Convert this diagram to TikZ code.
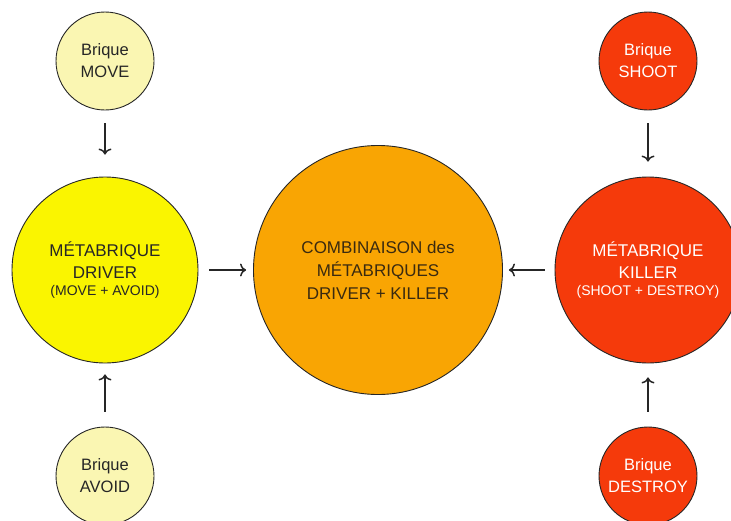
\documentclass[tikz,border=0pt]{standalone}
\usepackage{fontspec}
\setmainfont{Liberation Sans}
\usepackage{xcolor}
\usetikzlibrary{arrows.meta, positioning}

\definecolor{briqueYellow}{HTML}{FAF6B2}
\definecolor{metaYellow}{HTML}{FAF500}
\definecolor{comboOrange}{HTML}{F9A503}
\definecolor{killerRed}{HTML}{F53A0B}
\definecolor{comboText}{HTML}{3A2A10}

\tikzset{
  bubble/.style={circle, draw=black!85, line width=0.9pt, inner sep=0pt, align=center},
  brique/.style={bubble, minimum size=98pt, font=\fontsize{16.5}{22}\selectfont},
  meta/.style={bubble, minimum size=186pt, font=\fontsize{17}{22}\selectfont},
  combo/.style={bubble, minimum size=249pt, fill=comboOrange, text=comboText,
    font=\fontsize{17}{23}\selectfont},
  feed/.style={-{To[length=6pt, width=13pt]}, line width=1.5pt, black!85}
}

\begin{document}
\begin{tikzpicture}[x=1pt, y=-1pt]
\useasboundingbox (0,0) rectangle (731,520);

% small bricks
\node[brique, fill=briqueYellow, text=black!85] (move) at (105,61) {Brique\\MOVE};
\node[brique, fill=briqueYellow, text=black!85] (avoid) at (105,476) {Brique\\AVOID};
\node[brique, fill=killerRed, text=white] (shoot) at (648,61) {Brique\\SHOOT};
\node[brique, fill=killerRed, text=white] (destroy) at (648,476) {Brique\\DESTROY};

% meta bricks
\node[meta, fill=metaYellow, text=black!85] (driver) at (105,270)
  {MÉTABRIQUE\\DRIVER\\[-5pt]{\fontsize{14}{17}\selectfont (MOVE + AVOID)}};
\node[meta, fill=killerRed, text=white] (killer) at (648,270)
  {MÉTABRIQUE\\KILLER\\[-5pt]{\fontsize{14}{17}\selectfont (SHOOT + DESTROY)}};

% combination
\node[combo] (combo) at (378,270) {COMBINAISON des\\MÉTABRIQUES\\DRIVER + KILLER};

% arrows
\draw[feed, shorten <=13pt, shorten >=22pt] (move) -- (driver);
\draw[feed, shorten <=15pt, shorten >=11pt] (avoid) -- (driver);
\draw[feed, shorten <=13pt, shorten >=15pt] (shoot) -- (killer);
\draw[feed, shorten <=15pt, shorten >=14pt] (destroy) -- (killer);
\draw[feed, shorten <=11pt, shorten >=7pt] (driver) -- (combo);
\draw[feed, shorten <=10pt, shorten >=6pt] (killer) -- (combo);
\end{tikzpicture}
\end{document}
